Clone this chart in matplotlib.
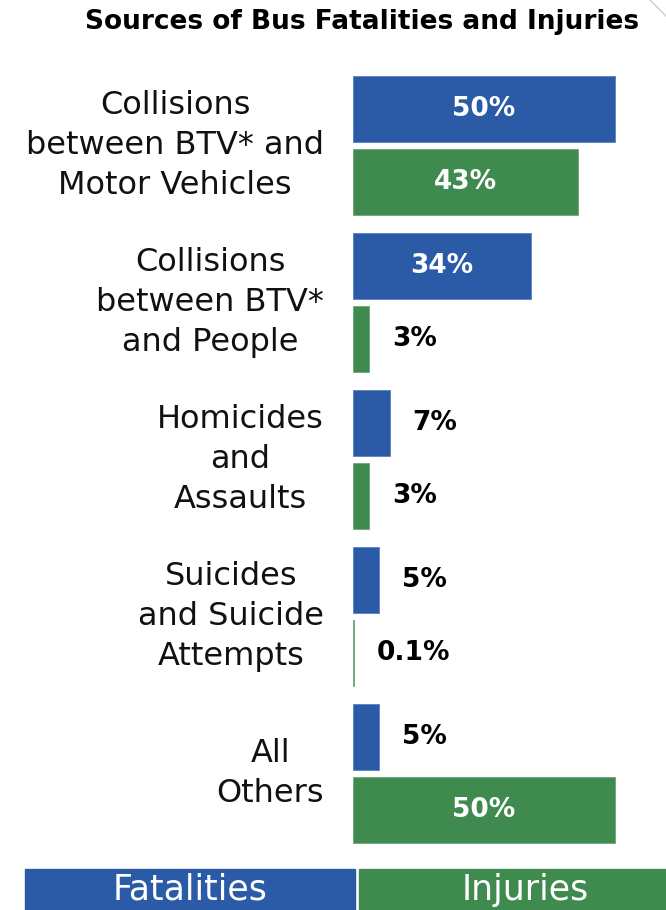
import matplotlib
matplotlib.use("Agg")
import matplotlib.pyplot as plt
from matplotlib.patches import Rectangle
from matplotlib.lines import Line2D
import matplotlib.transforms as mtransforms

# data
categories = [
    "Collisions\nbetween BTV* and\nMotor Vehicles",
    "Collisions\nbetween BTV*\nand People",
    "Homicides\nand\nAssaults",
    "Suicides\nand Suicide\nAttempts",
    "All\nOthers",
]
fatalities = [50, 34, 7, 5, 5]
injuries = [43, 3, 3, 0.1, 50]
fat_labels = ["50%", "34%", "7%", "5%", "5%"]
inj_labels = ["43%", "3%", "3%", "0.1%", "50%"]
series_names = ["Fatalities", "Injuries"]

BLUE = "#2B5BA6"
GREEN = "#3F8A4F"
W, H = 666, 910

fig = plt.figure(figsize=(W / 100, H / 100), dpi=100)
fig.patch.set_facecolor("white")

ax = fig.add_axes([353 / W, 50 / H, 313 / W, 800 / H])
ax.set_xlim(0, 313 / 5.24)
ax.set_ylim(4.554, -0.545)
ax.axis("off")

off, bh = 0.2325, 0.42
ys = list(range(len(categories)))
ax.barh([y - off for y in ys], fatalities, height=bh, color=BLUE, edgecolor="#5A80C0", linewidth=0.6)
ax.barh([y + off for y in ys], injuries, height=bh, color=GREEN, edgecolor="#6FA57C", linewidth=0.6)

vfont = dict(fontsize=19, fontweight="bold", family="DejaVu Sans", va="center")
pad = 23 / 5.24
for y, v, lab, in zip(ys, fatalities, fat_labels):
    if v >= 20:
        ax.text(v / 2, y - off, lab, color="white", ha="center", **vfont)
    else:
        ax.text(v + pad, y - off, lab, color="black", ha="left", **vfont)
for y, v, lab in zip(ys, injuries, inj_labels):
    if v >= 20:
        ax.text(v / 2, y + off, lab, color="white", ha="center", **vfont)
    else:
        ax.text(v + pad, y + off, lab, color="black", ha="left", **vfont)

# category labels, centered block right-aligned against the bars
tr = mtransforms.blended_transform_factory(fig.transFigure, ax.transData)
for y, cat in zip(ys, categories):
    ax.text(324 / W, y, cat, transform=tr, ha="right", va="center",
            multialignment="center", fontsize=23, family="DejaVu Sans",
            linespacing=1.38, color="#111111")

fig.text(362 / W, 1 - 22 / H, "Sources of Bus Fatalities and Injuries",
         ha="center", va="center", fontsize=19, fontweight="bold",
         family="DejaVu Sans", color="black")

# legend boxes at the bottom
boxes = [(25, 355, BLUE), (359, 666, GREEN)]
for (x0, x1, c), name in zip(boxes, series_names):
    fig.patches.append(Rectangle((x0 / W, 0), (x1 - x0) / W, 41 / H,
                                 transform=fig.transFigure, color=c))
    fig.text((x0 + x1) / 2 / W + (0 if c == BLUE else 13 / W), 20 / H, name,
             ha="center", va="center", color="white", fontsize=25,
             family="DejaVu Sans")

# faint corner edge from the source slide
fig.lines.append(Line2D([650 / W, 666 / W], [1, 1 - 16 / H],
                        transform=fig.transFigure, color="#CCCCCC", lw=1))

fig.savefig("out.png", dpi=100)
